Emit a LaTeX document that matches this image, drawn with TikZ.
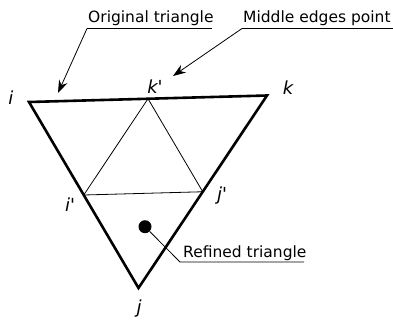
\documentclass[tikz,border=0pt]{standalone}
\usepackage{fontspec}
\setmainfont{DejaVu Sans}
\usetikzlibrary{arrows.meta,calc,positioning}
\tikzset{
  edge/.style    = {line width=2.6pt, line join=miter},
  sub/.style     = {line width=0.8pt},
  lbl/.style     = {font=\fontsize{18}{18}\selectfont\itshape, inner sep=0pt},
  note/.style    = {font=\fontsize{15.5}{15.5}\selectfont, inner sep=0pt, anchor=base west},
  lead/.style    = {line width=0.8pt},
  pointer/.style = {-{Stealth[length=4.5mm,width=3.2mm]}, line width=0.8pt},
  dot/.style     = {circle, fill=black, inner sep=0pt, minimum size=13pt},
}
\begin{document}
\begin{tikzpicture}[x=1pt,y=-1pt]
  \useasboundingbox (0,0) rectangle (393,324);
  % original triangle
  \coordinate (i) at (29,102);
  \coordinate (k) at (267,95.5);
  \coordinate (j) at (138.5,288);
  \coordinate (kk) at ($(i)!0.5!(k)$);
  \coordinate (ii) at ($(i)!0.5!(j)$);
  \coordinate (jj) at ($(k)!0.5!(j)$);
  \draw[edge] (i) -- (k) -- (j) -- cycle;
  % refined triangle
  \draw[sub] (kk) -- (ii) -- (jj) -- cycle;
  % vertex labels
  \node[lbl] (li) at (11,98) {i};
  \node[lbl] (lk) at (288,88) {k};
  \node[lbl] (lkk) at (155,87) {k\textquotesingle};
  \node[lbl] (lii) at (70,205) {i\textquotesingle};
  \node[lbl] (ljj) at (222,196) {j\textquotesingle};
  \node[lbl] (lj) at (139,309) {j};
  % callouts
  \node[note] (on) at (88,22.5) {Original triangle};
  \coordinate (ou) at (87,28.5);
  \coordinate (oe) at (212,28.5);
  \coordinate (otip) at (58,93);
  \draw[lead] (oe) -- (ou);
  \draw[pointer] (ou) -- (otip);
  \node[note] (mn) at (243,22.5) {Middle edges point};
  \coordinate (mu) at (242,28.5);
  \coordinate (me) at (393,28.5);
  \coordinate (mtip) at (173,76);
  \draw[lead] (me) -- (mu);
  \draw[pointer] (mu) -- (mtip);
  \node[dot] (d) at (145,226.7) {};
  \node[note] (rn) at (183,257) {Refined triangle};
  \coordinate (ru) at (180,262);
  \coordinate (re) at (304,262);
  \draw[lead] (d) -- (ru) -- (re);
\end{tikzpicture}
\end{document}
